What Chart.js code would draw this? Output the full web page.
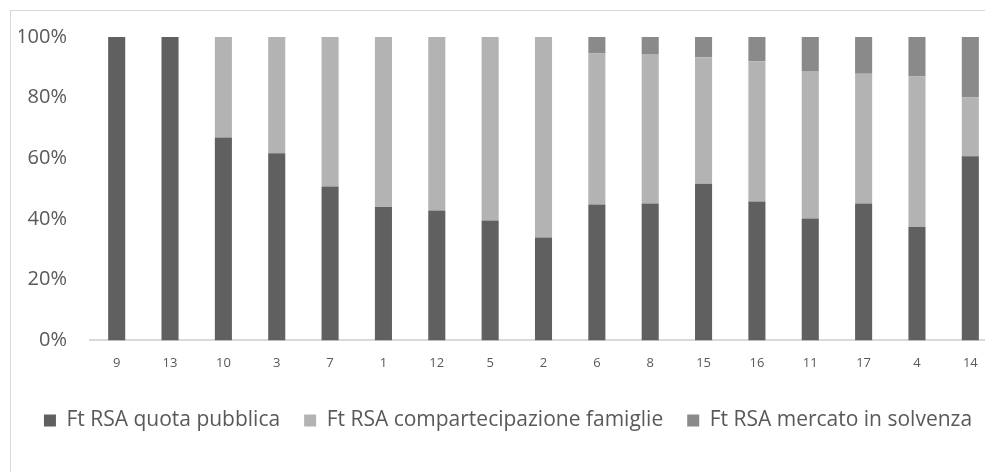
<!DOCTYPE html>
<html>
<head>
<meta charset="utf-8">
<script src="https://cdn.jsdelivr.net/npm/chart.js@4/dist/chart.umd.min.js"></script>
<style>
  html, body { margin: 0; padding: 0; background: #fff; overflow: hidden; }
  #frame {
    position: absolute; left: 10px; top: 10px;
    width: 1000px; height: 480px;
    border: 1px solid #d9d9d9; box-sizing: border-box;
  }
  #wrap { position: absolute; left: 8px; top: -9px; width: 982px; height: 479px; }
</style>
</head>
<body>
<div id="frame"><div id="wrap"><canvas id="chart"></canvas></div></div>
<script>
// Structure codes, in display order
const categories = ['9', '13', '10', '3', '7', '1', '12', '5', '2', '6', '8', '15', '16', '11', '17', '4', '14'];

// Share of RSA turnover by source (%)
const quotaPubblica = [100, 100, 66.9, 61.7, 50.7, 44.0, 42.8, 39.5, 33.9, 44.8, 45.1, 51.6, 45.8, 40.2, 45.1, 37.4, 60.7];
const compartecipazioneFamiglie = [0, 0, 33.1, 38.3, 49.3, 56.0, 57.2, 60.5, 66.1, 49.8, 49.3, 41.7, 46.2, 48.6, 42.8, 49.6, 19.4];
const mercatoSolvenza = [0, 0, 0, 0, 0, 0, 0, 0, 0, 5.4, 5.6, 6.7, 8.0, 11.2, 12.1, 13.0, 19.9];

const seriesNames = ['Ft RSA quota pubblica', 'Ft RSA compartecipazione famiglie', 'Ft RSA mercato in solvenza'];
const yTicks = [0, 20, 40, 60, 80, 100];

const textColor = '#595959';
const font = 'Open Sans';

new Chart(document.getElementById('chart'), {
  type: 'bar',
  data: {
    labels: categories,
    datasets: [
      { label: seriesNames[0], data: quotaPubblica, backgroundColor: '#606060' },
      { label: seriesNames[1], data: compartecipazioneFamiglie, backgroundColor: '#b3b3b3' },
      { label: seriesNames[2], data: mercatoSolvenza, backgroundColor: '#8a8a8a' }
    ]
  },
  options: {
    responsive: true,
    maintainAspectRatio: false,
    animation: false,
    layout: { padding: { top: 17, right: 4, bottom: 40, left: 0 } },
    datasets: { bar: { barPercentage: 1, categoryPercentage: 0.32, borderWidth: 0 } },
    scales: {
      x: {
        stacked: true,
        grid: { display: false, drawTicks: false },
        border: { display: true, color: '#d9d9d9', width: 2 },
        ticks: { color: textColor, font: { family: font, size: 13 }, padding: 15 }
      },
      y: {
        stacked: true,
        min: 0, max: 100,
        afterBuildTicks: (s) => { s.ticks = yTicks.map(v => ({ value: v })); },
        afterFit: (s) => { s.width = 71; },
        grid: { display: false, drawTicks: false },
        border: { display: false },
        ticks: {
          color: textColor, font: { family: font, size: 20 }, padding: 23,
          callback: (v) => v + '%'
        }
      }
    },
    plugins: {
      tooltip: { enabled: false },
      legend: {
        position: 'bottom',
        labels: {
          color: textColor,
          font: { family: font, size: 21 },
          boxWidth: 12, boxHeight: 12,
          padding: 24
        }
      }
    }
  }
});
</script>
</body>
</html>
